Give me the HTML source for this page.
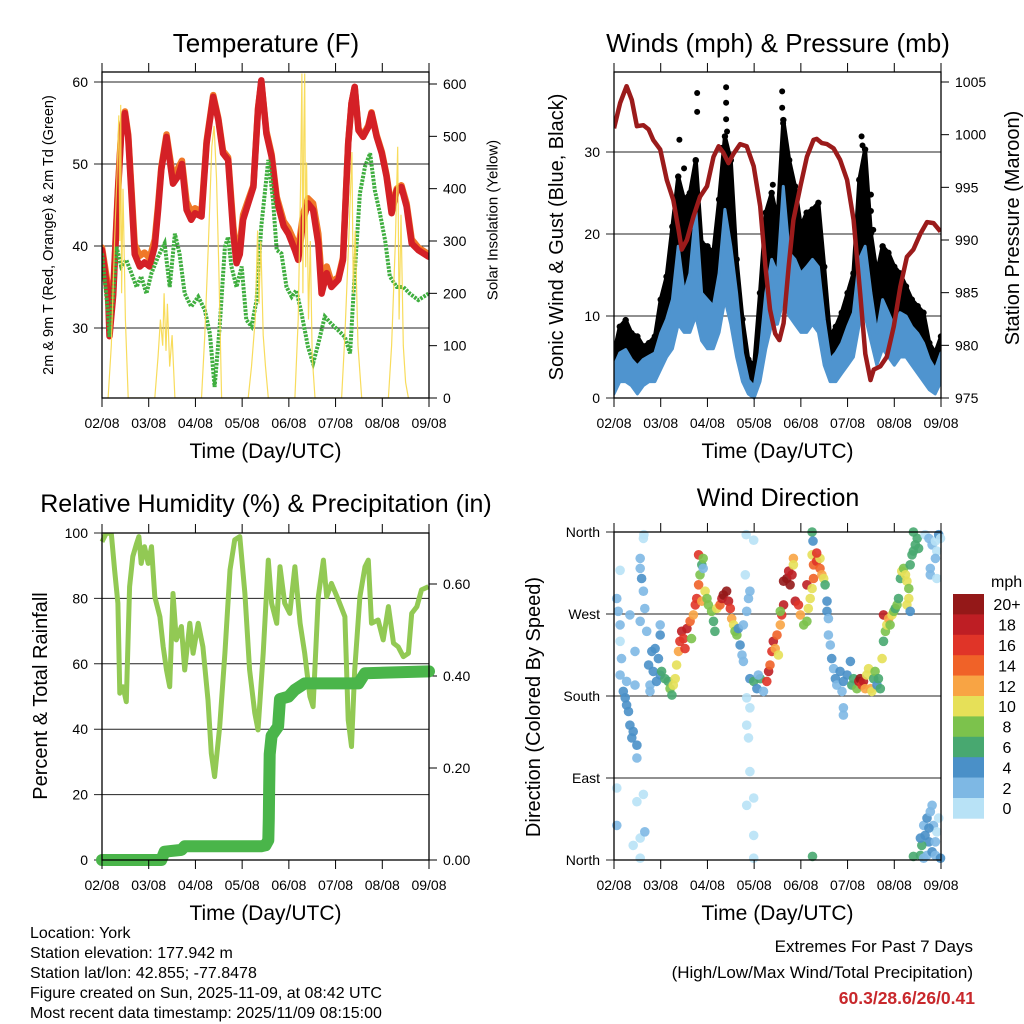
<!DOCTYPE html>
<html><head><meta charset="utf-8"><title>Station Meteogram</title>
<style>
html,body{margin:0;padding:0;background:#fff;}
svg{display:block;font-family:"Liberation Sans",Arial,sans-serif;}
</style></head>
<body>
<svg id="chart" width="1024" height="1024" viewBox="0 0 1024 1024" xmlns="http://www.w3.org/2000/svg"></svg>
<script>
// ---------- Temperature panel data ----------
const tempTime=[0,0.13,0.16,0.24,0.34,0.41,0.49,0.56,0.63,0.7,0.81,0.91,1.02,1.13,1.2,1.27,1.38,1.45,1.52,1.63,1.71,1.81,1.91,1.99,2.13,2.24,2.38,2.49,2.59,2.7,2.81,2.88,2.95,3.02,3.13,3.24,3.34,3.41,3.52,3.63,3.74,3.89,3.99,4.13,4.2,4.31,4.41,4.52,4.63,4.7,4.81,4.91,5.06,5.16,5.27,5.34,5.41,5.49,5.59,5.7,5.77,5.88,5.99,6.09,6.2,6.31,6.41,6.52,6.63,6.77,6.99];
const temp2m=[39.5,34,29,34,46.4,53.7,56.2,53.3,46.4,39,37.5,38,37.5,40,44.4,49.3,53.3,50.5,47.6,48.5,50,44.4,43.2,44,43.6,52.5,58.2,55.4,51.3,50.5,41.5,37.9,39,43.2,45.2,47.2,56.6,60.2,53.7,50.9,45.6,42.4,41.5,39.5,38.3,43.2,45.2,44.4,40.3,34.2,36.7,35,35.9,38.3,52.5,57.4,59.4,54.1,53.3,54.5,56.2,53.3,51.3,48.5,44,46.8,47.2,44.8,40.3,39.5,38.7];
const temp9m=[39.8,35,30,34.5,46.8,54,56.4,53.6,47,40.2,38.8,39.2,38.5,40.8,45,49.6,53.6,51,48.4,49.5,50.4,45.4,44.2,44.6,44.2,52.8,58.4,55.6,51.6,50.8,42.4,39,40,43.8,45.6,47.4,56.8,60,54,51.2,46,43,42.2,40.4,39.6,44,45.8,45.2,41.5,36,37.5,35.6,36.2,38.6,52.6,57.4,59.4,54.3,53.5,54.7,56.3,53.5,51.5,48.7,44.5,47,47.4,45.2,40.8,39.8,39];
const dewTime=[0,0.13,0.16,0.24,0.31,0.41,0.52,0.63,0.74,0.84,0.95,1.06,1.2,1.34,1.45,1.56,1.66,1.77,1.91,2.06,2.2,2.31,2.41,2.52,2.63,2.7,2.77,2.88,2.99,3.09,3.2,3.31,3.41,3.56,3.66,3.74,3.84,3.95,4.06,4.16,4.27,4.41,4.52,4.63,4.77,4.91,5.06,5.2,5.31,5.41,5.52,5.63,5.74,5.84,5.95,6.06,6.16,6.31,6.45,6.59,6.77,6.99];
const dewPoint=[39.1,31.8,28.9,34.2,39.9,37.5,38.3,36.7,35,36.3,34.2,36.7,38.7,40.3,35,41.5,39.1,34.2,32.6,33.8,32.2,29.3,22.8,30.2,39.9,41.1,37.5,35,37.5,31,30.2,33.4,42.4,50.5,45.6,39.5,39.1,35,33.8,34.6,31.8,27.7,25.7,28.1,31.4,30.5,29.7,28.9,26.9,36.7,46.4,49.7,51.3,46.8,44,40.7,36.3,35,35,34.2,33.4,34.2];
const solarTime=[0.13,0.2,0.27,0.33,0.36,0.38,0.4,0.42,0.45,0.5,0.56,1.13,1.2,1.25,1.3,1.33,1.37,1.4,1.45,1.5,1.56,2.13,2.2,2.28,2.35,2.4,2.45,2.5,2.56,3.13,3.2,3.28,3.33,3.36,3.4,3.45,3.5,3.56,4.13,4.2,4.25,4.28,4.3,4.32,4.34,4.36,4.38,4.42,4.46,4.5,4.56,5.13,5.2,5.28,5.35,5.38,5.42,5.48,5.56,6.13,6.2,6.28,6.33,6.36,6.4,6.45,6.5,6.56];
const solarVal=[0,100,300,450,540,300,560,200,400,150,0,0,80,150,100,200,90,180,60,120,0,0,120,300,480,520,420,250,0,0,60,150,320,180,300,120,60,0,0,150,400,620,200,500,620,250,450,150,300,80,0,0,120,300,470,200,320,100,0,0,100,300,480,150,350,100,30,0];
// ---------- Wind panel data ----------
const windTime=[0,0.125,0.25,0.375,0.5,0.625,0.75,0.875,1,1.125,1.25,1.375,1.5,1.625,1.75,1.875,2,2.125,2.25,2.375,2.5,2.625,2.75,2.875,3,3.125,3.25,3.375,3.5,3.625,3.75,3.875,4,4.125,4.25,4.375,4.5,4.625,4.75,4.875,5,5.125,5.25,5.375,5.5,5.625,5.75,5.875,6,6.125,6.25,6.375,6.5,6.625,6.75,6.875,7];
const windHi=[3.9,5.5,5.9,4.7,3.9,4.7,5.1,5.5,7.9,9.6,12,18.5,12.8,15.2,23,12.8,12,11.2,15.2,23,18.5,12.8,5.5,2.2,1.4,5.5,12.8,16.9,15.2,25.8,17.7,16.9,15.2,16,16.9,16,9.6,4.7,5.5,6.7,8.7,10.4,16.9,18.5,12.8,7.9,12,10.4,8.7,10.4,10,8.7,7.9,6.7,4.7,3.5,5.5];
const windLo=[0.5,2,2,1.5,0.5,1.5,2,2,3.5,5,6,9,8,8,10,7,6,6,8,12,9,5,2,0.5,0,2,6,9,9,12,10,9,8,8,9,8,4,2,2,3,4,5,9,10,7,4,6,5,4,5,5,4,3,2,1,0.5,2];
const gustHi=[5.5,8.7,9.5,7.9,7.5,6.3,6.7,7.5,12,14.8,20.9,27,24.2,25,29,18.9,18.5,17.7,24.2,31.9,29,16.9,9.6,4.7,3.9,12.8,22.6,25,21.7,33.9,29,25.8,20.9,22.6,23,23.8,16,7.5,8.7,10.4,12.8,15.2,26.6,30.3,20.1,15.2,18.5,17.7,16,15.2,13.6,12,11.2,10.4,6.7,5.5,7.5];
const gustOutTime=[1.4,1.75,1.78,1.78,2.4,2.4,2.4,2.42,3.6,3.6,3.62,5.3,5.32,5.5,5.5,5.55,1.5,2.3,3.4];
const gustOutVal=[31.5,28.9,37.2,34.9,37.9,36,34,32.5,37.4,35.4,33.5,31.9,30.8,24.8,22.8,20.5,28,30.5,26];
const presTime=[0,0.13,0.27,0.38,0.49,0.63,0.74,0.84,0.99,1.13,1.27,1.38,1.45,1.56,1.7,1.84,1.99,2.13,2.24,2.34,2.45,2.56,2.7,2.84,2.99,3.13,3.24,3.34,3.45,3.54,3.63,3.74,3.84,3.99,4.13,4.27,4.34,4.45,4.56,4.7,4.84,4.99,5.13,5.27,5.38,5.49,5.56,5.7,5.84,5.99,6.13,6.27,6.41,6.56,6.7,6.84,6.99];
const presVal=[1000.6,1003,1004.6,1003.3,1000.8,1000.9,1000.5,999.5,998.6,995.7,993.8,991,989.1,990,992.2,994.1,995.1,997.9,998.9,998.3,997.3,998.2,999.1,998.9,997,993.2,987.5,983.4,981.1,980.5,982.1,987.5,991.9,995.1,997.9,999.5,999.6,999.2,999.1,998.7,997.6,995.7,991.9,984.9,979.2,976.7,977.7,978,978.9,981.8,985.6,988.4,989.1,990.6,991.7,991.6,990.8];
// ---------- RH / precip data ----------
const rhTime=[0,0.09,0.2,0.27,0.34,0.38,0.45,0.52,0.59,0.66,0.74,0.79,0.84,0.91,0.99,1.06,1.13,1.24,1.31,1.38,1.45,1.52,1.59,1.7,1.77,1.88,1.95,2.06,2.16,2.27,2.34,2.41,2.52,2.63,2.74,2.84,2.95,3.06,3.16,3.27,3.34,3.45,3.56,3.63,3.74,3.81,3.91,4.02,4.13,4.24,4.34,4.45,4.52,4.63,4.74,4.81,4.91,5.06,5.2,5.27,5.34,5.41,5.52,5.63,5.7,5.77,5.91,6.02,6.13,6.24,6.34,6.45,6.56,6.63,6.74,6.84,6.99];
const rhVal=[97.3,99.9,99.9,88.7,78.5,51,53,48.4,83.6,92.8,96.8,98.9,90.7,95.8,90.7,95.8,80.5,74.4,65.2,58.1,53,81.5,67.3,71.4,58.1,72.4,63.2,72.4,65.2,48.9,32.6,25.5,40.8,63.2,88.7,97.9,98.9,81.5,58.1,44.9,39.8,63.2,91.7,78.5,72.4,89.7,78.5,75.4,89.7,72.4,63.2,50,46.9,80.5,91.7,80.5,84.6,79.5,74.4,42.8,34.7,58.1,80.5,89.7,91.7,72.4,73.4,67.3,77.5,66.3,65.2,62.2,63.2,75.4,77.5,82.6,83.6];
const precipTime=[0,1.27,1.34,1.7,1.77,3.41,3.5,3.56,3.57,3.58,3.59,3.63,3.77,3.81,3.99,4.13,4.34,5.49,5.63,7];
const precipVal=[0,0,0.018,0.022,0.03,0.03,0.032,0.043,0.09,0.16,0.23,0.27,0.29,0.35,0.355,0.37,0.384,0.384,0.406,0.41];
// ---------- Wind direction data ----------
const dirDay=[0.06,0.09,0.13,0.13,0.16,0.13,0.2,0.24,0.27,0.31,
0.34,0.38,0.41,0.49,0.49,0.27,0.45,0.56,0.56,0.59,
0.63,0.63,0.64,0.66,0.7,0.56,0.06,0.06,0.49,0.63,
0.56,0.41,0.56,0.66,0.13,0.34,0.45,0.74,0.81,0.88,
0.95,0.84,0.77,0.99,0.91,1.02,1.09,1.16,1.2,1.24,
1.27,1.31,0.99,0.99,0.77,1.34,1.38,1.41,1.45,1.49,
1.52,1.56,1.63,1.66,1.7,1.74,1.77,1.81,1.84,1.88,
1.88,1.81,1.91,1.91,1.95,1.99,2.02,2.09,2.13,2.16,
2.2,2.27,2.31,2.34,2.41,2.45,2.49,2.52,2.56,2.59,
2.63,2.66,2.7,2.74,2.77,2.77,2.84,2.88,2.91,2.81,
2.83,2.99,2.91,2.99,3.06,3.13,3.2,2.84,2.91,2.84,
2.88,2.91,2.99,2.84,2.99,2.99,3.09,3.27,3.31,3.34,
3.38,3.41,3.45,3.49,3.52,3.56,3.59,3.63,3.56,3.63,
3.7,3.74,3.77,3.81,3.84,3.84,3.88,3.95,3.99,4.06,
4.13,4.16,4.2,4.13,4.24,4.27,4.24,4.26,4.24,4.27,
4.34,4.41,4.45,4.49,4.52,4.41,4.34,4.56,4.56,4.59,
4.59,4.63,4.66,4.7,4.74,4.77,4.84,4.88,4.91,4.99,
5.06,5.09,5.13,5.2,5.24,5.27,5.31,5.34,5.38,5.41,
5.45,5.49,5.52,5.56,5.59,5.63,5.66,5.7,4.91,4.91,
5.77,5.74,5.77,5.81,5.84,5.88,5.91,5.95,5.99,6.02,
6.06,6.09,6.13,6.16,6.2,6.24,6.27,6.31,6.31,6.27,
6.34,6.38,6.41,6.45,6.49,6.41,6.52,6.34,6.66,6.74,
6.81,6.88,6.91,6.95,6.99,6.77,6.88,6.77,6.91,6.63,
6.66,6.7,6.74,6.77,6.81,6.84,6.88,6.91,6.59,6.56,
6.63,6.7,6.41,6.81,6.88,6.95,6.99,6.74,6.56,4.25];
const dirDeg=[287,273,258,240,221,203,185,178,170,163,
148,134,141,112,126,196,192,320,331,309,
295,353,357,276,251,262,79,38,64,72,
24,16,2,31,318,269,229,214,229,232,
221,207,192,203,196,207,199,196,188,181,
192,199,258,247,185,214,229,240,251,243,
232,254,262,243,269,280,287,302,313,324,
284,335,331,320,295,287,280,273,262,251,
276,280,287,291,295,284,276,265,258,251,
247,254,236,225,218,258,273,287,295,313,
357,351,199,196,188,199,185,178,167,148,
134,97,68,60,27,2,203,196,207,214,
229,240,232,247,225,258,269,280,273,306,
309,317,302,313,331,324,284,280,269,258,
262,276,287,302,298,309,360,350,335,324,
328,320,313,309,302,331,337,284,273,265,
247,236,221,210,199,192,207,185,196,203,
218,192,199,188,196,199,192,196,188,203,
210,188,185,199,207,192,199,188,167,159,
269,221,240,251,258,265,258,269,273,276,
280,287,309,317,320,313,306,298,287,280,
324,335,339,346,353,360,342,273,357,353,
346,350,339,357,353,320,331,313,309,38,
27,46,20,53,60,38,20,31,16,5,
2,5,4,9,5,46,2,35,24,4];
const dirSpd=[2,2,2,1,2,3,4,4,4,4,
4,4,4,3,4,3,3,2,2,4,
3,1,1,2,2,3,1,2,1,1,
1,1,1,3,1,3,3,4,4,4,
4,4,3,4,4,6,6,7,8,6,
10,10,3,4,2,10,12,16,18,17,
16,18,14,8,12,16,17,14,8,7,
12,16,8,3,10,9,8,8,7,6,
10,14,18,20,20,18,17,13,10,9,
8,4,4,3,3,2,2,2,2,1,
1,1,4,6,4,7,3,1,1,1,
1,1,1,1,1,1,2,16,18,14,
16,18,12,14,10,12,16,18,8,20,
20,18,20,18,12,10,18,16,12,8,
8,10,10,18,10,14,6,4,10,14,
16,14,12,10,6,10,16,4,4,3,
3,3,4,3,4,3,4,3,4,4,
4,6,6,8,18,20,16,18,12,10,
10,12,10,6,8,4,6,6,3,3,
18,11,6,8,10,12,8,10,8,7,
8,7,6,10,8,10,10,8,10,10,
6,6,6,6,6,7,6,4,1,2,
2,1,1,4,1,2,2,3,1,3,
4,4,4,2,2,2,2,1,6,6,
3,3,6,4,3,1,4,4,4,6];
const speedColors=["#b8e2f6","#7eb8e4","#4a90c8","#48a870","#7cc24c","#e6e058","#f8a444","#f06228","#e03428","#be1e24","#941818"];
const speedLabels=["0","2","4","6","8","10","12","14","16","18","20+"];
const dayLabels=["02/08","03/08","04/08","05/08","06/08","07/08","08/08","09/08"];
const tempTicks=[30,40,50,60];
const solarTicks=[0,100,200,300,400,500,600];
const windTicks=[0,10,20,30];
const presTicks=[975,980,985,990,995,1000,1005];
const rhTicks=[0,20,40,60,80,100];
const precipTicks=[0,0.2,0.4,0.6];
const dirTicks=[0,90,180,270,360];
const dirNames=["North","East","South","West","North"];

const NS="http://www.w3.org/2000/svg";
const svg=document.getElementById('chart');
function mk(tag,attrs,parent){const e=document.createElementNS(NS,tag);for(const k in attrs)e.setAttribute(k,attrs[k]);(parent||svg).appendChild(e);return e;}
function lin(d0,d1,r0,r1){return v=>r0+(v-d0)/(d1-d0)*(r1-r0);}
function pathOf(xs,ys,sx,sy){let d='';for(let i=0;i<xs.length;i++){d+=(i?'L':'M')+sx(xs[i]).toFixed(1)+','+sy(ys[i]).toFixed(1);}return d;}
function bandOf(xs,lo,hi,sx,sy){let d='';for(let i=0;i<xs.length;i++)d+=(i?'L':'M')+sx(xs[i]).toFixed(1)+','+sy(hi[i]).toFixed(1);for(let i=xs.length-1;i>=0;i--)d+='L'+sx(xs[i]).toFixed(1)+','+sy(lo[i]).toFixed(1);return d+'Z';}
function txt(x,y,s,size,anchor,parent,extra){const t=mk('text',Object.assign({x:x,y:y,'font-size':size,'text-anchor':anchor||'start',fill:'#000'},extra||{}),parent);t.textContent=s;return t;}

function makeFrame(g,x0,x1,y0,y1,sx){
  for(let i=0;i<dayLabels.length;i++){
    const x=sx(i);
    const tt=mk('line',{x1:x,x2:x,y1:y0-9,y2:y0,stroke:'#000','stroke-width':1},g);
    
    
    const tb=mk('line',{x1:x,x2:x,y1:y1,y2:y1+9,stroke:'#000','stroke-width':1},g);
    
    
    const lb=txt(x,y1+30,dayLabels[i],14,'middle',g);
    
    
  }
  const r=mk('rect',{x:x0,y:y0,width:x1-x0,height:y1-y0,fill:'none',stroke:'#000','stroke-width':1.3},g);
  
  
  const xt=txt((x0+x1)/2,y1+60,'Time (Day/UTC)',21,'middle',g);
  
  
}
function leftAxis(g,ticks,labels,sy,x0,x1,grid){
  for(let i=0;i<ticks.length;i++){
    const y=sy(ticks[i]);
    const l=mk('line',{x1:x0-8,x2:grid?x1:x0,y1:y,y2:y,stroke:'#222','stroke-width':1},g);
    
    
    const t=txt(x0-14,y+5,labels[i],14,'end',g);
    
    
  }
}
function rightAxis(g,ticks,labels,sy,x1){
  for(let i=0;i<ticks.length;i++){
    const y=sy(ticks[i]);
    const l=mk('line',{x1:x1,x2:x1+8,y1:y,y2:y,stroke:'#000','stroke-width':1},g);
    
    
    const t=txt(x1+14,y+5,labels[i],14,'start',g);
    
    
  }
}
function vlabel(g,x,y,s,size,name){
  const t=mk('text',{x:0,y:0,'font-size':size,'text-anchor':'middle',transform:'translate('+x+','+y+') rotate(-90)',dy:'0.35em',fill:'#000'},g);
  t.textContent=s;
  
  
}

// ================= Panel 1: Temperature =================
{
const g=mk('g',{});


const x0=102,x1=429,y0=72,y1=398;
const sx=lin(0,7,x0,x1), sy=lin(30,60,328,82), ss=lin(0,600,398,84);
const clip=mk('clipPath',{id:'c1'},g);
const cr=mk('rect',{x:x0,y:y0,width:x1-x0,height:y1-y0},clip);


leftAxis(g,tempTicks,tempTicks.map(String),sy,x0,x1,true);
rightAxis(g,solarTicks,solarTicks.map(String),ss,x1);
const pg=mk('g',{'clip-path':'url(#c1)'},g);


const o=mk('path',{d:pathOf(tempTime,temp9m,sx,sy),fill:'none',stroke:'#f07828','stroke-width':6.5,'stroke-linejoin':'round','stroke-linecap':'round'},pg);


const r=mk('path',{d:pathOf(tempTime,temp2m,sx,sy),fill:'none',stroke:'#d42026','stroke-width':6.5,'stroke-linejoin':'round','stroke-linecap':'round'},pg);


const d=mk('path',{d:pathOf(dewTime,dewPoint,sx,sy),fill:'none',stroke:'#3fae3f','stroke-width':4,'stroke-dasharray':'2.5 1.2'},pg);


const s=mk('path',{d:pathOf(solarTime,solarVal,sx,ss),fill:'none',stroke:'#f7d84a','stroke-width':1.2,opacity:0.9},pg);


makeFrame(g,x0,x1,y0,y1,sx);
const t=txt(266,52,'Temperature (F)',26,'middle',g);


vlabel(g,48,235,'2m & 9m T (Red, Orange) & 2m Td (Green)',14.5,'temperature-y-axis-title');
vlabel(g,492,220,'Solar Insolation (Yellow)',15,'solar-y-axis-title');
}

// ================= Panel 2: Winds & Pressure =================
{
const g=mk('g',{});


const x0=614,x1=941,y0=72,y1=398;
const sx=lin(0,7,x0,x1), sy=lin(0,30,398,152), sp=lin(975,1005,398,82);
const clip=mk('clipPath',{id:'c2'},g);
const cr=mk('rect',{x:x0,y:y0,width:x1-x0,height:y1-y0+3},clip);


leftAxis(g,windTicks,windTicks.map(String),sy,x0,x1,true);
rightAxis(g,presTicks,presTicks.map(String),sp,x1);
const pg=mk('g',{'clip-path':'url(#c2)'},g);


const gb=mk('path',{d:bandOf(windTime,windHi,gustHi,sx,sy),fill:'#000',stroke:'#000','stroke-width':4,'stroke-linejoin':'round'},pg);


for(let i=0;i<windTime.length;i++){
  const c=mk('circle',{cx:sx(windTime[i]),cy:sy(gustHi[i]),r:3.2,fill:'#000'},pg);
  
  
}
for(let i=0;i<gustOutTime.length;i++){
  const c=mk('circle',{cx:sx(gustOutTime[i]),cy:sy(gustOutVal[i]),r:3,fill:'#000'},pg);
  
  
}
const bb=mk('path',{d:bandOf(windTime,windLo,windHi,sx,sy),fill:'#4f94cf',stroke:'#4f94cf','stroke-width':3,'stroke-linejoin':'round'},pg);


const p=mk('path',{d:pathOf(presTime,presVal,sx,sp),fill:'none',stroke:'#9b1b1b','stroke-width':4.5,'stroke-linejoin':'round'},pg);


makeFrame(g,x0,x1,y0,y1,sx);
const t=txt(778,52,'Winds (mph) & Pressure (mb)',26,'middle',g);


vlabel(g,556,237,'Sonic Wind & Gust (Blue, Black)',20,'wind-y-axis-title');
vlabel(g,1012,228,'Station Pressure (Maroon)',20,'pressure-y-axis-title');
}

// ================= Panel 3: RH & Precip =================
{
const g=mk('g',{});


const x0=102,x1=429,y0=533,y1=860;
const sx=lin(0,7,x0,x1), sy=lin(0,100,860,533), sp=lin(0,0.6,860,584);
const clip=mk('clipPath',{id:'c3'},g);
const cr=mk('rect',{x:x0-8,y:y0,width:x1-x0+16,height:y1-y0+8},clip);


leftAxis(g,rhTicks,rhTicks.map(String),sy,x0,x1,true);
rightAxis(g,precipTicks,precipTicks.map(v=>v.toFixed(2)),sp,x1);
const pg=mk('g',{'clip-path':'url(#c3)'},g);


const rh=mk('path',{d:pathOf(rhTime,rhVal,sx,sy),fill:'none',stroke:'#92c954','stroke-width':5,'stroke-linejoin':'round'},pg);


const pr=mk('path',{d:pathOf(precipTime,precipVal,sx,sp),fill:'none',stroke:'#4ab54a','stroke-width':12,'stroke-linejoin':'round','stroke-linecap':'round'},pg);


makeFrame(g,x0,x1,y0,y1,sx);
const t=txt(266,512,'Relative Humidity (%) & Precipitation (in)',25,'middle',g);


vlabel(g,40,696,'Percent & Total Rainfall',20,'humidity-y-axis-title');
}

// ================= Panel 4: Wind direction =================
{
const g=mk('g',{});


const x0=614,x1=941,y0=532,y1=860;
const sx=lin(0,7,x0,x1), sy=lin(0,360,860,532);
const clip=mk('clipPath',{id:'c4'},g);
const cr=mk('rect',{x:x0-5,y:y0-5,width:x1-x0+10,height:y1-y0+10},clip);


leftAxis(g,dirTicks,dirNames,sy,x0,x1,true);
const pg=mk('g',{'clip-path':'url(#c4)'},g);


for(let i=0;i<dirDay.length;i++){
  const b=Math.min(10,Math.floor(dirSpd[i]/2));
  const c=mk('circle',{cx:sx(dirDay[i]).toFixed(1),cy:sy(dirDeg[i]).toFixed(1),r:4.8,fill:speedColors[b],opacity:0.9},pg);
  
  
}
makeFrame(g,x0,x1,y0,y1,sx);
const t=txt(778,506,'Wind Direction',25,'middle',g);


vlabel(g,533,707,'Direction (Colored By Speed)',20,'direction-y-axis-title');
const cb=mk('g',{},svg);


const unit=txt(991,587,'mph',16,'start',cb);


const top=594,bh=20.4;
for(let i=0;i<speedColors.length;i++){
  const k=speedColors.length-1-i;
  const rr=mk('rect',{x:953,y:top+i*bh,width:31,height:bh+0.3,fill:speedColors[k]},cb);
  
  
  const lb=txt(1007,top+i*bh+bh/2+6,speedLabels[k],16,'middle',cb);
  
  
}
}

// ================= Footer text =================
{
const g=mk('g',{});


const lines=["Location: York","Station elevation: 177.942 m","Station lat/lon: 42.855; -77.8478","Figure created on Sun, 2025-11-09, at 08:42 UTC","Most recent data timestamp: 2025/11/09 08:15:00"];
for(let i=0;i<lines.length;i++){
  const t=txt(30,938+i*20,lines[i],16,'start',g);
  
  
}
const e=mk('g',{});


const a=txt(973,952,'Extremes For Past 7 Days',17,'end',e);


const b=txt(973,978,'(High/Low/Max Wind/Total Precipitation)',17,'end',e);


const c=txt(975,1004,'60.3/28.6/26/0.41',17.5,'end',e,{fill:'#c8282c','font-weight':'bold'});


}
</script>
</body></html>
